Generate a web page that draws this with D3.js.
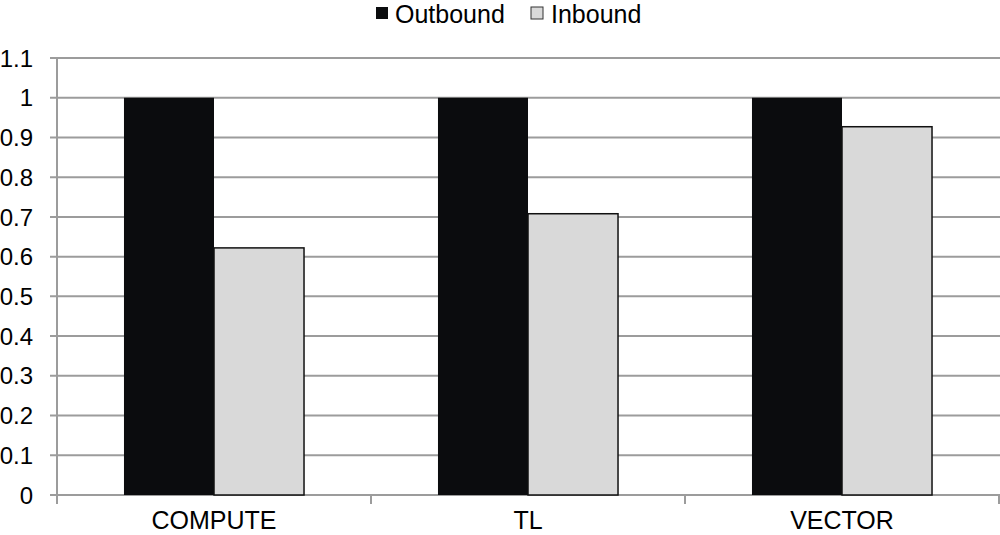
<!DOCTYPE html>
<html><head><meta charset="utf-8">
<script src="https://cdn.jsdelivr.net/npm/d3@7"></script>
<style>body{margin:0;background:#fff}svg{display:block}text{font-family:Arial,"Liberation Sans",sans-serif;fill:#000}</style>
</head><body>
<svg id="c" width="1000" height="535"></svg>
<script>
const categories = ["COMPUTE", "TL", "VECTOR"];
const seriesNames = ["Outbound", "Inbound"];
const outbound = [1.0, 1.0, 1.0];
const inbound = [0.622, 0.708, 0.927];
const yTicks = [0,0.1,0.2,0.3,0.4,0.5,0.6,0.7,0.8,0.9,1,1.1];
const yTickLabels = ["0","0.1","0.2","0.3","0.4","0.5","0.6","0.7","0.8","0.9","1","1.1"];
const colors = ["#0b0c0e", "#d9d9d9"];

(function () {
const svg = d3.select("#c");
const mLeft = 57, mRight = 999, mTop = 58, mBottom = 495;
const x0 = d3.scaleBand().domain(categories).range([mLeft, mRight]).padding(0);
const x1 = d3.scaleBand().domain(seriesNames).range([0, x0.bandwidth()]).paddingInner(0).paddingOuter(0.744);
const y = d3.scaleLinear().domain([0, 1.1]).range([mBottom, mTop]);
const gridColor = "#9c9c9c";

svg.append("g").selectAll("line").data(yTicks).join("line")
  .attr("x1", mLeft - 7).attr("x2", 1000)
  .attr("y1", d => y(d)).attr("y2", d => y(d))
  .attr("stroke", gridColor).attr("stroke-width", 2);

svg.append("line").attr("x1", mLeft).attr("x2", mLeft).attr("y1", mTop).attr("y2", mBottom + 8)
  .attr("stroke", gridColor).attr("stroke-width", 2);

svg.append("g").selectAll("text").data(yTicks).join("text")
  .attr("x", 33).attr("y", d => y(d)).attr("dy", "0.36em")
  .attr("text-anchor", "end").attr("font-size", 24)
  .text((d, i) => yTickLabels[i]);

const xTickPos = categories.map(c => x0(c)).concat([x0(categories[categories.length-1]) + x0.bandwidth()]);
svg.append("g").selectAll("line").data(xTickPos).join("line")
  .attr("x1", d => d).attr("x2", d => d).attr("y1", mBottom).attr("y2", mBottom + 9)
  .attr("stroke", gridColor).attr("stroke-width", 2);

const rows = categories.map((c, i) => ({cat: c, vals: [outbound[i], inbound[i]]}));
const g = svg.append("g").selectAll("g").data(rows).join("g")
  .attr("transform", d => `translate(${x0(d.cat)},0)`);
g.selectAll("rect").data(d => d.vals.map((v, j) => ({s: seriesNames[j], v, j}))).join("rect")
  .attr("x", d => x1(d.s)).attr("width", x1.bandwidth())
  .attr("y", d => y(d.v)).attr("height", d => mBottom - y(d.v))
  .attr("fill", d => colors[d.j])
  .attr("stroke", d => d.j === 1 ? "#111" : "none").attr("stroke-width", 1.5);

svg.append("g").selectAll("text").data(categories).join("text")
  .attr("x", d => x0(d) + x0.bandwidth() / 2).attr("y", 529)
  .attr("text-anchor", "middle").attr("font-size", 25)
  .text(d => d);

const legX = [376, 531];
const leg = svg.append("g").selectAll("g").data(seriesNames).join("g")
  .attr("transform", (d, i) => `translate(${legX[i]},0)`);
leg.append("rect").attr("x", 0).attr("y", 7).attr("width", 12).attr("height", 12)
  .attr("fill", (d, i) => colors[i]).attr("stroke", (d, i) => i === 1 ? "#333" : "none").attr("stroke-width", 1);
leg.append("text").attr("x", (d, i) => i === 0 ? 19 : 20).attr("y", 23).attr("font-size", 25).text(d => d);
})();
</script>
</body></html>
